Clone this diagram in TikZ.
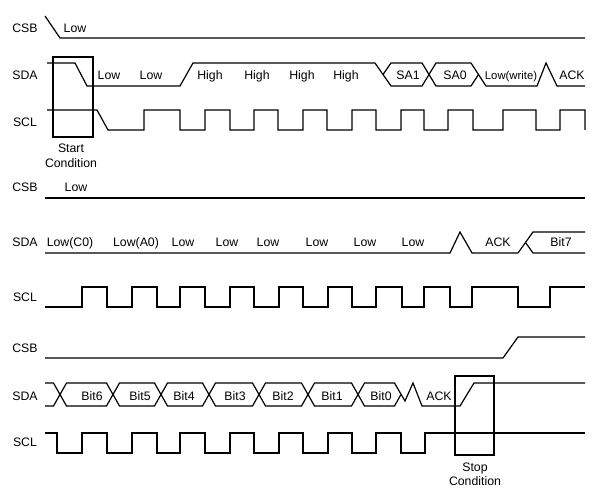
\documentclass[tikz,border=0pt]{standalone}
\usepackage{fontspec}
\setmainfont{Liberation Sans}
\begin{document}
\begin{tikzpicture}[x=1pt,y=-1pt,
  sig/.style={line width=1.2pt, line join=miter},
  lbl/.style={font=\fontsize{12.3}{14}\selectfont, inner sep=0pt, text height=8.8pt, text depth=0pt},
  condbox/.style={line width=1.2pt}]
\useasboundingbox (0,0) rectangle (600,500);
% ---------- left labels ----------
\node[lbl] (c1) at (25,28) {CSB};
\node[lbl] (d1) at (25,75) {SDA};
\node[lbl] (s1) at (25,122) {SCL};
\node[lbl] (c2) at (25,187) {CSB};
\node[lbl] (d2) at (25,242) {SDA};
\node[lbl] (s2) at (25,297) {SCL};
\node[lbl] (c3) at (25,348) {CSB};
\node[lbl] (d3) at (25,396) {SDA};
\node[lbl] (s3) at (25,442) {SCL};

% ================= Section 1 =================
\draw[sig] (45,16) -- (60,38) -- (585,38);
\node[lbl] (l1) at (75,28) {Low};
% SDA
\draw[sig] (47,63) -- (75,63) -- (87,86) -- (180,86) -- (193,63) -- (375,63) -- (391,86) -- (422,86) -- (436,63) -- (471,63) -- (486,86) -- (537,86) -- (546,63) -- (557,86) -- (585,86);
\draw[sig] (383,74.5) -- (391,63) -- (422,63) -- (436,86) -- (471,86) -- (478.5,74.5);
\node[lbl] at (109,75) {Low};
\node[lbl] at (151,75) {Low};
\node[lbl] at (210,75) {High};
\node[lbl] at (257,75) {High};
\node[lbl] at (302,75) {High};
\node[lbl] at (346,75) {High};
\node[lbl] at (408,75) {SA1};
\node[lbl] at (455,75) {SA0};
\node[lbl,font=\fontsize{11.3}{13}\selectfont] at (511,75) {Low(write)};
\node[lbl] at (572,75) {ACK};
% SCL
\draw[sig] (47,110) -- (97,110) -- (108,130) -- (144,130) -- (144,110) -- (180,110) -- (180,130) -- (205,130) -- (205,110) -- (230,110) -- (230,130) -- (254,130) -- (254,110) -- (278,110) -- (278,130) -- (303,130) -- (303,110) -- (327,110) -- (327,130) -- (352,130) -- (352,110) -- (376,110) -- (376,130) -- (401,130) -- (401,110) -- (424,110) -- (424,130) -- (448,130) -- (448,110) -- (473,110) -- (473,130) -- (503,130) -- (503,110) -- (536,110) -- (536,130) -- (560,130) -- (560,110) -- (585,110) -- (585,130);
% start condition
\draw[condbox] (53,57) rectangle (93,137);
\node[lbl] (st1) at (71,148) {Start};
\node[lbl] (st2) at (71,163) {Condition};

% ================= Section 2 =================
\draw[sig] (45,198) -- (585,198);
\node[lbl] (l2) at (76,187) {Low};
% SDA
\draw[sig] (45,253) -- (450,253) -- (460,232) -- (472,253) -- (518,253) -- (533,232) -- (585,232);
\draw[sig] (525.5,242.5) -- (533,253) -- (585,253);
\node[lbl] at (70,242) {Low(C0)};
\node[lbl] at (136,242) {Low(A0)};
\node[lbl] at (183,242) {Low};
\node[lbl] at (227,242) {Low};
\node[lbl] at (268,242) {Low};
\node[lbl] at (317,242) {Low};
\node[lbl] at (365,242) {Low};
\node[lbl] at (413,242) {Low};
\node[lbl] at (498,242) {ACK};
\node[lbl] at (561,242) {Bit7};
% SCL
\draw[sig] (45,307) -- (82,307) -- (82,287) -- (107,287) -- (107,307) -- (132,307) -- (132,287) -- (157,287) -- (157,307) -- (180,307) -- (180,287) -- (205,287) -- (205,307) -- (230,307) -- (230,287) -- (254,287) -- (254,307) -- (279,307) -- (279,287) -- (303,287) -- (303,307) -- (328,307) -- (328,287) -- (352,287) -- (352,307) -- (376,307) -- (376,287) -- (402,287) -- (402,307) -- (424,307) -- (424,287) -- (450,287) -- (450,307) -- (472,307) -- (472,287) -- (518,287) -- (518,307) -- (550,307) -- (550,287) -- (585,287);

% ================= Section 3 =================
\draw[sig] (45,358) -- (503,358) -- (518,337) -- (585,337);
% SDA
\draw[sig] (45,383) -- (53.5,383) -- (66.5,406) -- (106.5,406) -- (119.5,383) -- (154.5,383) -- (167.5,406) -- (202.5,406) -- (215.5,383) -- (252.5,383) -- (265.5,406) -- (301.5,406) -- (314.5,383) -- (351.5,383) -- (364.5,406) -- (394.5,406) -- (401,394.5);
\draw[sig] (45,406) -- (53.5,406) -- (66.5,383) -- (106.5,383) -- (119.5,406) -- (154.5,406) -- (167.5,383) -- (202.5,383) -- (215.5,406) -- (252.5,406) -- (265.5,383) -- (301.5,383) -- (314.5,406) -- (351.5,406) -- (364.5,383) -- (394.5,383) -- (405,401) -- (413,383) -- (422,406) -- (460,406) -- (474,383) -- (585,383);
\node[lbl] at (92,396) {Bit6};
\node[lbl] at (140,396) {Bit5};
\node[lbl] at (184,396) {Bit4};
\node[lbl] at (235,396) {Bit3};
\node[lbl] at (283,396) {Bit2};
\node[lbl] at (332,396) {Bit1};
\node[lbl] at (381,396) {Bit0};
\node[lbl] at (439,396) {ACK};
% SCL
\draw[sig] (45,433) -- (57,433) -- (57,453) -- (82,453) -- (82,433) -- (107,433) -- (107,453) -- (132,453) -- (132,433) -- (157,433) -- (157,453) -- (180,453) -- (180,433) -- (205,433) -- (205,453) -- (230,453) -- (230,433) -- (254,433) -- (254,453) -- (279,453) -- (279,433) -- (303,433) -- (303,453) -- (328,453) -- (328,433) -- (352,433) -- (352,453) -- (376,453) -- (376,433) -- (401,433) -- (401,453) -- (425,453) -- (425,433) -- (585,433);
% stop condition
\draw[condbox] (455,376) rectangle (494,455);
\node[lbl] (sp1) at (475,467) {Stop};
\node[lbl] (sp2) at (475,481) {Condition};
\end{tikzpicture}
\end{document}
